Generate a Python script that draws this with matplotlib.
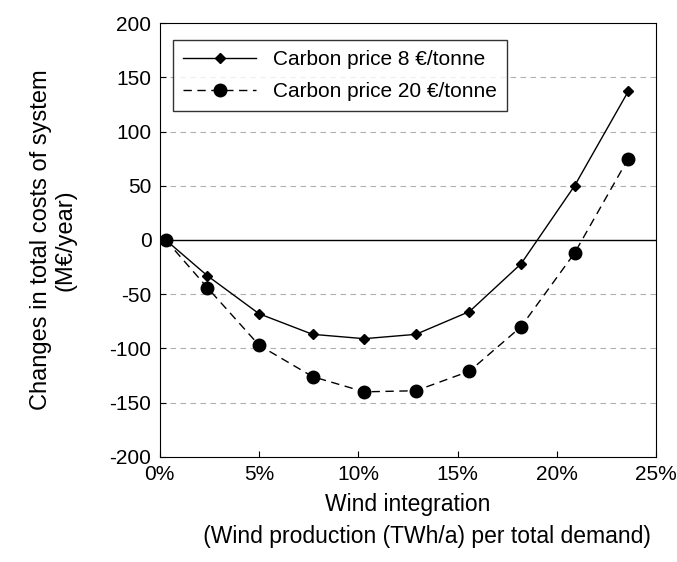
import matplotlib
matplotlib.use("Agg")
import matplotlib.pyplot as plt

wind = [0.3, 2.4, 5.0, 7.7, 10.3, 12.9, 15.6, 18.2, 20.9, 23.6]
cost_8 = [0, -33, -68, -87, -91, -87, -66, -22, 50, 137]
cost_20 = [0, -44, -97, -126, -140, -139, -121, -80, -12, 75]
xticks = [0, 5, 10, 15, 20, 25]
yticks = [-200, -150, -100, -50, 0, 50, 100, 150, 200]

plt.rcParams['font.family'] = ['Liberation Sans', 'DejaVu Sans']
fig = plt.figure(figsize=(6.77, 5.62), dpi=100)
ax = fig.add_axes([0.236, 0.187, 0.733, 0.772])
for y in yticks:
    if y not in (0, -200, 200):
        ax.axhline(y, color='#b0b0b0', lw=0.8, ls=(0, (5, 4)), zorder=0)
ax.axhline(0, color='black', lw=1, zorder=1)
ax.plot(wind, cost_8, '-', color='black', marker='D', ms=5, lw=1, label='Carbon price 8 €/tonne')
ax.plot(wind, cost_20, '--', color='black', marker='o', ms=9, lw=1, dashes=(6, 4), label='Carbon price 20 €/tonne')
ax.set_xlim(0, 25)
ax.set_ylim(-200, 200)
ax.set_xticks(xticks)
ax.set_xticklabels([f"{t}%" for t in xticks], fontsize=15)
ax.set_yticks(yticks)
ax.set_yticklabels([str(t) for t in yticks], fontsize=15)
ax.tick_params(direction='in', length=4, pad=6)
ax.set_xlabel("Wind integration\n      (Wind production (TWh/a) per total demand)", fontsize=16.5, labelpad=6, linespacing=1.5)
ax.set_ylabel("Changes in total costs of system\n(M€/year)", fontsize=17, labelpad=24, linespacing=1.1)
leg = ax.legend(loc='upper left', bbox_to_anchor=(0.005, 0.985), fontsize=15, frameon=True, fancybox=False,
                edgecolor='black', handlelength=3.5, borderpad=0.5, labelspacing=0.6)
leg.get_frame().set_linewidth(1)
fig.savefig("out.png")
